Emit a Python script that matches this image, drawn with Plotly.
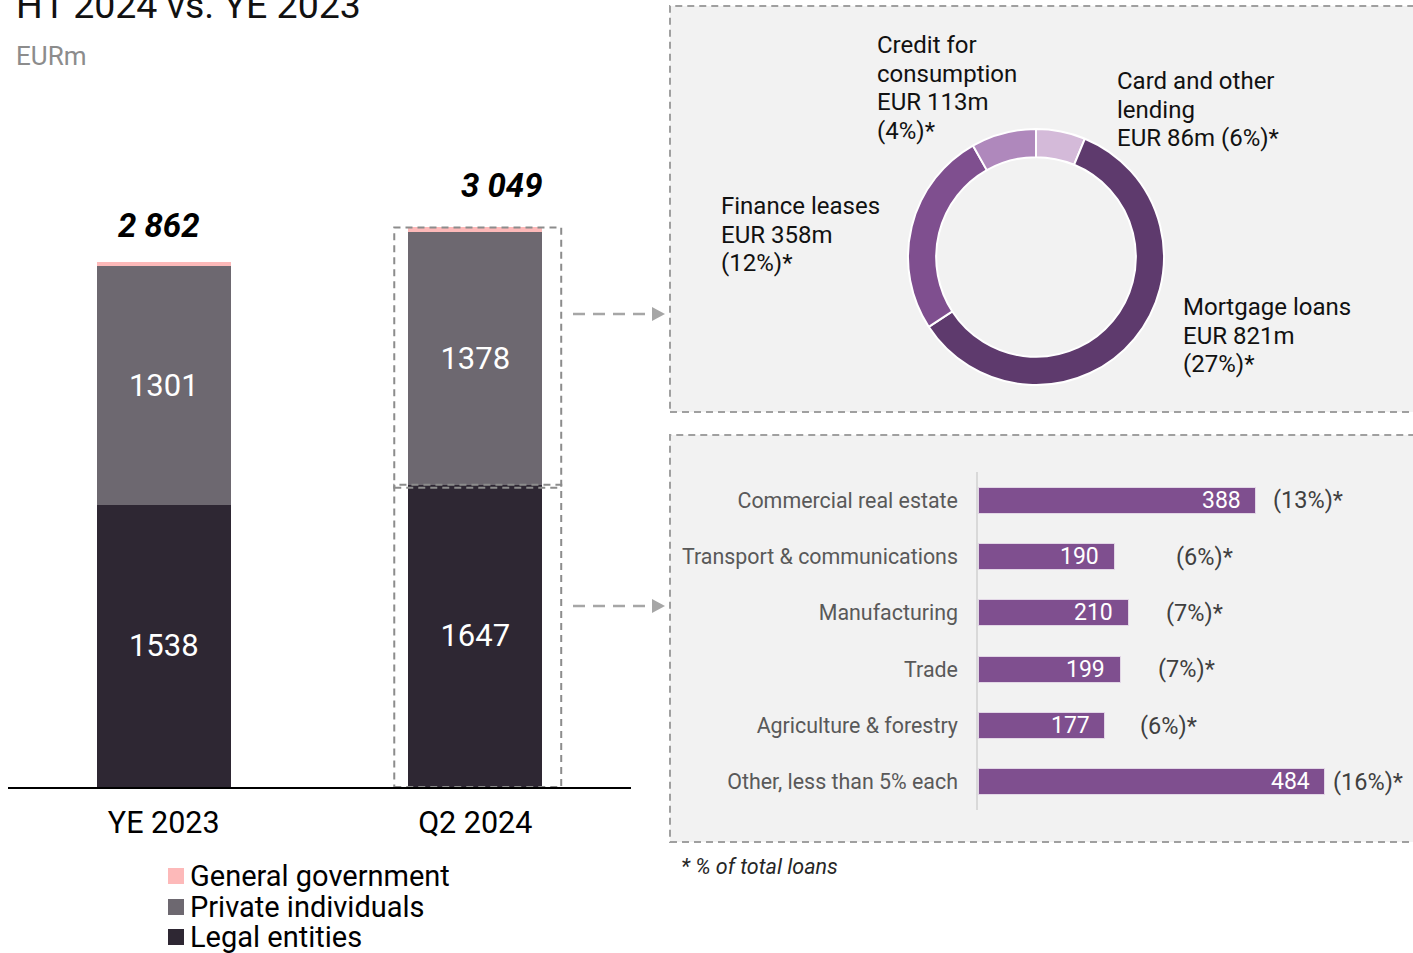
import plotly.graph_objects as go

W, H = 1413, 953
FONT = "Roboto"


def px(x):
    return x / W


def py(y):
    return 1 - y / H


# Loan book by counterparty, EURm
periods = ["YE 2023", "Q2 2024"]
legal_entities = [1538, 1647]
private_individuals = [1301, 1378]
general_government = [23, 24]
segment_names = ["Legal entities", "Private individuals", "General government"]
segment_colors = ["#2E2733", "#6D6870", "#FDB9B9"]

# Private individuals by product, Q2 2024
retail_products = ["Card and other lending", "Mortgage loans", "Finance leases", "Credit for consumption"]
retail_values = [86, 821, 358, 113]
retail_shares = ["6%", "27%", "12%", "4%"]
retail_colors = ["#D4BAD9", "#5E3A6D", "#7F4F8F", "#AF88BC"]

# Legal entities by sector, Q2 2024
sectors = ["Commercial real estate", "Transport & communications", "Manufacturing",
           "Trade", "Agriculture & forestry", "Other, less than 5% each"]
sector_values = [388, 190, 210, 199, 177, 484]
sector_shares = ["13%", "6%", "7%", "7%", "6%", "16%"]
sector_color = "#7F4F8F"

segments = [legal_entities, private_individuals, general_government]
totals = [sum(v) for v in zip(*segments)]

fig = go.Figure()

# ---- stacked bars -------------------------------------------------------
for name, vals, color in zip(segment_names, segments, segment_colors):
    show_text = name != "General government"
    fig.add_trace(go.Bar(
        x=periods, y=vals, name=name, marker=dict(color=color, line=dict(width=0)),
        width=0.43, text=[str(v) for v in vals] if show_text else None,
        textposition="inside" if show_text else "none", insidetextanchor="middle",
        textangle=0, textfont=dict(family=FONT, size=31, color="white"),
        hoverinfo="skip", showlegend=False, xaxis="x", yaxis="y",
    ))

# ---- donut: private individuals ----------------------------------------
fig.add_trace(go.Pie(
    values=retail_values, labels=retail_products, sort=False, direction="clockwise",
    rotation=0, hole=0.78, textinfo="none", hoverinfo="skip", showlegend=False,
    marker=dict(colors=retail_colors, line=dict(color="white", width=2)),
    domain=dict(x=[px(908), px(1164)], y=[py(385), py(129)]),
))

# ---- horizontal bars: legal entities by sector ----------------------------
fig.add_trace(go.Bar(
    x=sector_values, y=sectors, orientation="h", width=0.46,
    marker=dict(color=sector_color, line=dict(color="#E2D6E6", width=1)),
    hoverinfo="skip", showlegend=False, xaxis="x2", yaxis="y2",
))

annotations = []
shapes = []

# headings
annotations.append(dict(text="H1 2024 vs. YE 2023", x=px(14), y=py(5), xref="paper", yref="paper",
                        xanchor="left", yanchor="middle", showarrow=False,
                        font=dict(family=FONT, size=37.5, color="#111111")))
annotations.append(dict(text="EURm", x=px(14), y=py(56), xref="paper", yref="paper",
                        xanchor="left", yanchor="middle", showarrow=False,
                        font=dict(family=FONT, size=26, color="#8C8C8C")))

# totals above the stacks
total_shift = [(-5, 36), (27, 42)]
for period, total, (dx, dy) in zip(periods, totals, total_shift):
    annotations.append(dict(
        text="<b><i>" + f"{total:,}".replace(",", " ") + "</i></b>",
        x=period, y=total, xref="x", yref="y", xanchor="center", yanchor="middle",
        xshift=dx, yshift=dy, showarrow=False,
        font=dict(family=FONT, size=33, color="#000000")))

# legend
legend_rows = [876, 907, 937]
for row_y, name, color in zip(legend_rows, segment_names[::-1], segment_colors[::-1]):
    shapes.append(dict(type="rect", xref="paper", yref="paper",
                       x0=px(168), x1=px(184), y0=py(row_y + 8), y1=py(row_y - 8),
                       fillcolor=color, line=dict(width=0)))
    annotations.append(dict(text=name, x=px(189), y=py(row_y), xref="paper", yref="paper",
                            xanchor="left", yanchor="middle", showarrow=False, borderpad=0,
                            font=dict(family=FONT, size=29, color="#000000")))

# dashed outlines around the Q2 2024 stack
box_style = dict(color="#8C8C8C", width=2, dash="7px,5px")
q2 = periods.index("Q2 2024")
shapes.append(dict(type="rect", xref="x", yref="y", x0=q2 - 0.26, x1=q2 + 0.276,
                   y0=0, y1=legal_entities[q2], line=box_style))
shapes.append(dict(type="rect", xref="x", yref="y", x0=q2 - 0.26, x1=q2 + 0.276,
                   y0=legal_entities[q2] * 0.99, y1=totals[q2], line=box_style))

# breakdown panels
panel_line = dict(color="#A0A0A0", width=2, dash="7px,5px")
for top, bottom in [(6, 412), (435, 842)]:
    shapes.append(dict(type="rect", xref="paper", yref="paper", layer="below",
                       x0=px(670), x1=1.01, y0=py(bottom), y1=py(top),
                       fillcolor="#F2F2F2", line=panel_line))

# connector arrows
for ay in [314, 606]:
    shapes.append(dict(type="line", xref="paper", yref="paper",
                       x0=px(573), x1=px(652), y0=py(ay), y1=py(ay),
                       line=dict(color="#A6A6A6", width=2.5, dash="12px,8px")))
    shapes.append(dict(type="path", xref="paper", yref="paper",
                       path=f"M {px(652)},{py(ay - 7)} L {px(665)},{py(ay)} L {px(652)},{py(ay + 7)} Z",
                       fillcolor="#A6A6A6", line=dict(width=0)))

# donut labels
retail_label_lines = [
    ["Card and other", "lending", f"EUR {retail_values[0]}m ({retail_shares[0]})*"],
    ["Mortgage loans", f"EUR {retail_values[1]}m", f"({retail_shares[1]})*"],
    ["Finance leases", f"EUR {retail_values[2]}m", f"({retail_shares[2]})*"],
    ["Credit for", "consumption", f"EUR {retail_values[3]}m", f"({retail_shares[3]})*"],
]
retail_label_pos = [(1115, 81), (1181, 307), (719, 206), (875, 45)]
line_step = 28.7
for lines, (lx, ly) in zip(retail_label_lines, retail_label_pos):
    for i, line in enumerate(lines):
        annotations.append(dict(text=line, x=px(lx), y=py(ly + i * line_step),
                                xref="paper", yref="paper", xanchor="left", yanchor="middle",
                                showarrow=False, font=dict(family=FONT, size=24, color="#111111")))

# sector value and share labels
share_gap = [16, 61, 37, 37, 34, 7]
for sector, value, share, gap in zip(sectors, sector_values, sector_shares, share_gap):
    annotations.append(dict(text=str(value), x=value, y=sector, xref="x2", yref="y2",
                            xanchor="right", yanchor="middle", xshift=-14, borderpad=0,
                            showarrow=False, font=dict(family=FONT, size=23, color="white")))
    annotations.append(dict(text=f"({share})*", x=value, y=sector, xref="x2", yref="y2",
                            xanchor="left", yanchor="middle", xshift=gap, borderpad=0,
                            showarrow=False, font=dict(family=FONT, size=23.5, color="#404040")))

annotations.append(dict(text="<i>* % of total loans</i>", x=px(679), y=py(866),
                        xref="paper", yref="paper", xanchor="left", yanchor="middle",
                        showarrow=False, font=dict(family=FONT, size=21.5, color="#262626")))

fig.update_layout(
    width=W, height=H, margin=dict(l=0, r=0, t=0, b=0),
    paper_bgcolor="white", plot_bgcolor="rgba(0,0,0,0)",
    barmode="stack", showlegend=False,
    font=dict(family=FONT, color="#000000"),
    xaxis=dict(domain=[px(8), px(631)], range=[-0.5, 1.5], type="category",
               showline=True, linecolor="#000000", linewidth=1.5, ticks="",
               showgrid=False, zeroline=False, ticklabelstandoff=8,
               tickfont=dict(family=FONT, size=30.5, color="#000000"), anchor="y"),
    yaxis=dict(domain=[py(787), py(170)], range=[0, 3362], visible=False, anchor="x"),
    xaxis2=dict(domain=[px(978), 1.0], range=[0, 607.5], visible=False, anchor="y2"),
    yaxis2=dict(domain=[py(810), py(472)], type="category", autorange="reversed",
                showline=True, linecolor="#D9D9D9", linewidth=1.5, ticks="",
                showgrid=False, zeroline=False, ticklabelstandoff=14,
                tickfont=dict(family=FONT, size=21.4, color="#595959"), anchor="x2"),
    annotations=annotations, shapes=shapes,
)

fig.write_html("out.html")
